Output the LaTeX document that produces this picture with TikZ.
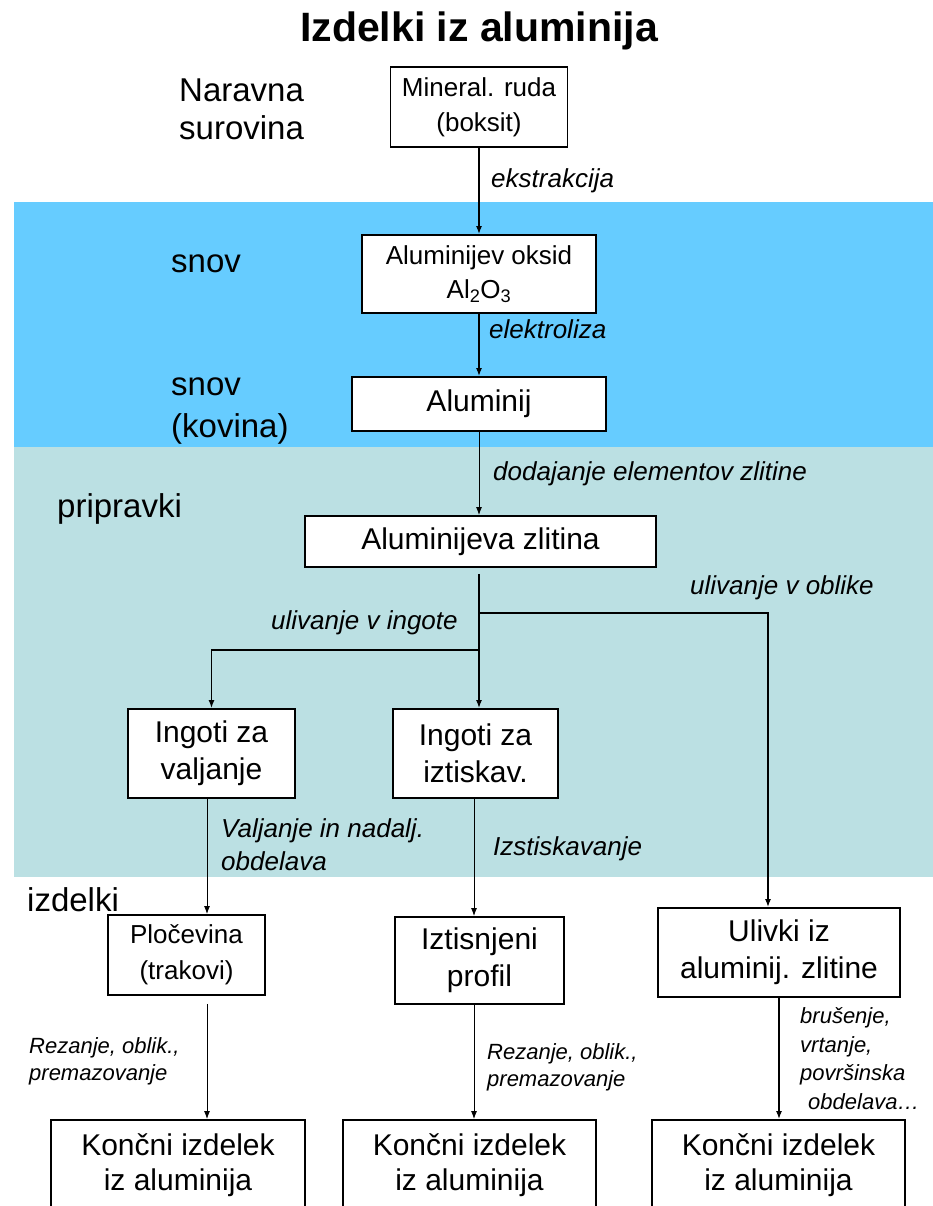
\documentclass[tikz,border=0pt]{standalone}
\usepackage{fontspec}
\setmainfont{Liberation Sans}
\usetikzlibrary{arrows.meta,calc}
\definecolor{bandblue}{HTML}{66CCFF}
\definecolor{bandteal}{HTML}{BBE0E3}
\newcommand{\fs}[2]{\fontsize{#1}{#2}\selectfont}
\begin{document}
\begin{tikzpicture}[x=1pt,y=-1pt,
  box/.style={draw=black,line width=1.9pt,fill=white,align=center,inner sep=2pt},
  lbl/.style={anchor=west,align=left,inner sep=0pt},
  edgelbl/.style={anchor=west,align=left,inner sep=0pt,font=\fs{26}{32}\itshape},
  smalllbl/.style={anchor=west,align=left,inner sep=0pt,font=\fs{22}{27}\itshape},
  arr/.style={line width=1.3pt,-{Latex[length=8pt,width=6pt]}},
  arrthin/.style={line width=0.9pt,-{Latex[length=8pt,width=6pt]}},
  conn/.style={line width=1.3pt}]
\useasboundingbox (0,0) rectangle (933,1206);
\clip (0,0) rectangle (933,1206);
\fill[white] (0,0) rectangle (933,1206);
% bands
\fill[bandblue] (14,202) rectangle (933,447);
\fill[bandteal] (14,447) rectangle (933,877);

% title
\node[font=\fs{41}{46}\bfseries] (title) at (479,31) {Izdelki iz aluminija};

% level labels
\node[lbl,font=\fs{33}{38}] (lnar) at (179,109) {Naravna\\surovina};
\node[lbl,font=\fs{33}{38}] (lsnov) at (171,264) {snov};
\node[lbl,font=\fs{33}{42}] (lkov) at (171,411) {snov\\(kovina)};
\node[lbl,font=\fs{33}{38}] (lpri) at (57,509) {pripravki};
\node[lbl,font=\fs{33}{38}] (lizd) at (27,900) {izdelki};

% boxes
\node[box,minimum width=177pt,minimum height=80pt,font=\fs{26}{35}] (min) at (479,107) {Mineral. ruda\\(boksit)};
\node[box,minimum width=234pt,minimum height=78pt,font=\fs{26}{34}] (oks) at (479,274) {Aluminijev oksid\\Al\textsubscript{2}O\textsubscript{3}};
\node[box,minimum width=254pt,minimum height=54pt,font=\fs{30}{36}] (al) at (479,404) {Aluminij};
\node[box,minimum width=351pt,minimum height=51pt,font=\fs{30}{36}] (zl) at (480.5,541.5) {Aluminijeva zlitina};
\node[box,minimum width=167pt,minimum height=89pt,font=\fs{30}{37}] (ingv) at (211.5,753.5) {Ingoti za\\valjanje};
\node[box,minimum width=165pt,minimum height=89pt,font=\fs{30}{37}] (ingi) at (475.5,753.5) {Ingoti za\\iztiskav.};
\node[box,minimum width=157pt,minimum height=80pt,font=\fs{26}{36}] (ploc) at (186.5,955) {Pločevina\\(trakovi)};
\node[box,minimum width=169pt,minimum height=87pt,font=\fs{30}{37}] (izt) at (479.5,960.5) {Iztisnjeni\\profil};
\node[box,minimum width=242pt,minimum height=89pt,font=\fs{30}{37}] (uliv) at (779,952.5) {Ulivki iz\\aluminij. zlitine};
\node[box,minimum width=254pt,minimum height=90pt,font=\fs{30}{35}] (k1) at (178,1165) {Končni izdelek\\iz aluminija};
\node[box,minimum width=253pt,minimum height=90pt,font=\fs{30}{35}] (k2) at (469.5,1165) {Končni izdelek\\iz aluminija};
\node[box,minimum width=253pt,minimum height=90pt,font=\fs{30}{35}] (k3) at (778.5,1165) {Končni izdelek\\iz aluminija};

% column coordinates and junctions
\coordinate (c0) at (479,0);
\coordinate (c1) at (207,0);
\coordinate (c2) at (474,0);
\coordinate (cr) at (768,0);
\coordinate (cr2) at (779,0);
\coordinate (ja) at (479,613);
\coordinate (jb) at (479,650);

% connectors
\draw[arr] (min.south -| c0) -- (oks.north -| c0);
\draw[arr] (oks.south -| c0) -- (al.north -| c0);
\draw[arrthin] (al.south -| c0) -- (zl.north -| c0);
\draw[conn,shorten <=6pt] (zl.south -| c0) -- (jb);
\draw[arr] (jb) -| (ingv.north);
\draw[arr] (jb) -- (ingi.north -| c0);
\draw[arr] (ja) -| (uliv.north -| cr);
\draw[arrthin] (ingv.south -| c1) -- (ploc.north -| c1);
\draw[arrthin,shorten <=8pt] (ploc.south -| c1) -- (k1.north -| c1);
\draw[arrthin] (ingi.south -| c2) -- (izt.north -| c2);
\draw[arrthin] (izt.south -| c2) -- (k2.north -| c2);
\draw[arr] (uliv.south -| cr2) -- (k3.north -| cr2);

% edge labels
\node[edgelbl] (lekst) at (491,181) {ekstrakcija};
\node[edgelbl] (lelek) at (489,329) {elektroliza};
\node[edgelbl] (ldod) at (493,474) {dodajanje elementov zlitine};
\node[edgelbl] (lobl) at (690,588) {ulivanje v oblike};
\node[edgelbl] (ling) at (271,623) {ulivanje v ingote};
\node[edgelbl,font=\fs{26}{33}\itshape] (lval) at (221,845) {Valjanje in nadalj.\\obdelava};
\node[edgelbl] (lizs) at (493,849) {Izstiskavanje};
\node[smalllbl] (lrez1) at (29,1061) {Rezanje, oblik.,\\premazovanje};
\node[smalllbl] (lrez2) at (487,1067) {Rezanje, oblik.,\\premazovanje};
\node[smalllbl,font=\fs{22}{28.5}\itshape] (lbrus) at (800,1058.5) {brušenje,\\vrtanje,\\površinska\\\hspace*{8pt}obdelava…};
\end{tikzpicture}
\end{document}
